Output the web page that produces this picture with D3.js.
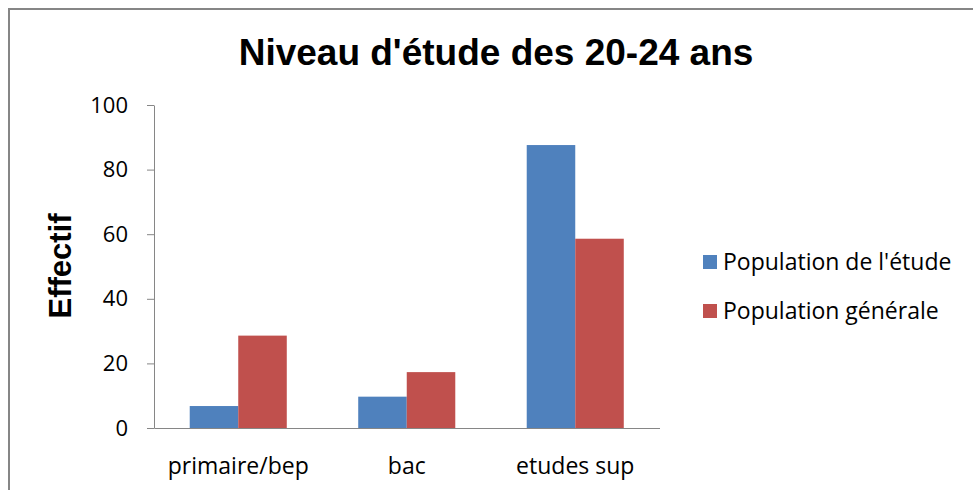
<!DOCTYPE html>
<html>
    <head>
        <title></title>
        <script src="https://d3js.org/d3.v7.min.js"></script>
    </head>

    <body style="margin:0; background:#fff;">
        <svg id="bars" width="973" height="490"></svg>
    </body>

    <script>

        // data
        var categories = ["primaire/bep", "bac", "etudes sup"]
        var seriesNames = ["Population de l'étude", "Population générale"]
        var etude = [6.8, 9.7, 87.6]
        var generale = [28.6, 17.3, 58.6]
        var yTicks = [0, 20, 40, 60, 80, 100]
        var colors = ["#4F81BD", "#C0504D"]

        var svg = d3.select("#bars")

        // outer chart border (runs off the bottom and right)
        svg.append("rect")
        .attr("x", 9)
        .attr("y", 9)
        .attr("width", 1000)
        .attr("height", 500)
        .attr("fill", "#fff")
        .attr("stroke", "#868686")
        .attr("stroke-width", 2)

        // plot area (window.top is read-only, so no "top" var)
        var plotLeft = 154, plotRight = 659.5, plotTop = 105, plotBottom = 428

        var x = d3.scaleBand()
        .domain(categories)
        .range([plotLeft, plotRight])
        .paddingInner(0.424)
        .paddingOuter(0.212)

        var x1 = d3.scaleBand()
        .domain(seriesNames)
        .range([0, x.bandwidth()])

        var y = d3.scaleLinear()
        .domain([0, 100])
        .range([plotBottom, plotTop])

        // y axis
        var yAxis = svg.append("g")
        .attr("transform", "translate(" + plotLeft + ",0)")
        .call(d3.axisLeft(y).tickValues(yTicks).tickSize(7).tickPadding(19).tickSizeOuter(0))
        yAxis.selectAll("line, path").attr("stroke", "#868686")
        yAxis.selectAll("text")
        .attr("font-family", "Open Sans")
        .attr("font-size", 22)
        .attr("fill", "#000")

        // bars
        var rows = categories.map(function(c, i) {
            return {cat: c, values: [etude[i], generale[i]]}
        })

        svg.selectAll(".grp")
        .data(rows)
        .enter()
        .append("g")
        .attr("transform", function(d) { return "translate(" + x(d.cat) + ",0)" })
        .selectAll("rect")
        .data(function(d) { return d.values.map(function(v, j) { return {s: seriesNames[j], v: v, j: j} }) })
        .enter()
        .append("rect")
        .attr("x", function(d) { return x1(d.s) })
        .attr("width", x1.bandwidth())
        .attr("y", function(d) { return y(d.v) })
        .attr("height", function(d) { return y(0) - y(d.v) })
        .attr("fill", function(d) { return colors[d.j] })

        // x axis (no tick marks)
        var xAxis = svg.append("g")
        .attr("transform", "translate(0," + plotBottom + ")")
        .call(d3.axisBottom(x).tickSize(0).tickPadding(30))
        xAxis.select("path").attr("stroke", "#868686")
        xAxis.selectAll("text")
        .attr("font-family", "Open Sans")
        .attr("font-size", 23)
        .attr("fill", "#000")

        // title
        svg.append("text")
        .attr("x", 496)
        .attr("y", 65)
        .attr("text-anchor", "middle")
        .attr("font-family", "Liberation Sans, Arial")
        .attr("font-weight", "bold")
        .attr("font-size", 37)
        .text("Niveau d'étude des 20-24 ans")

        // y label
        svg.append("text")
        .attr("transform", "translate(71,266) rotate(-90)")
        .attr("text-anchor", "middle")
        .attr("font-family", "Liberation Sans, Arial")
        .attr("font-weight", "bold")
        .attr("font-size", 31)
        .text("Effectif")

        // legend
        var legend = svg.selectAll(".leg")
        .data(seriesNames)
        .enter()
        .append("g")
        .attr("transform", function(d, i) { return "translate(703," + (262 + i * 49) + ")" })

        legend.append("rect")
        .attr("x", 0)
        .attr("y", -7)
        .attr("width", 14)
        .attr("height", 14)
        .attr("fill", function(d, i) { return colors[i] })

        legend.append("text")
        .attr("x", 20)
        .attr("y", 8)
        .attr("font-family", "Open Sans")
        .attr("font-size", 23)
        .text(function(d) { return d })
    </script>
</html>
